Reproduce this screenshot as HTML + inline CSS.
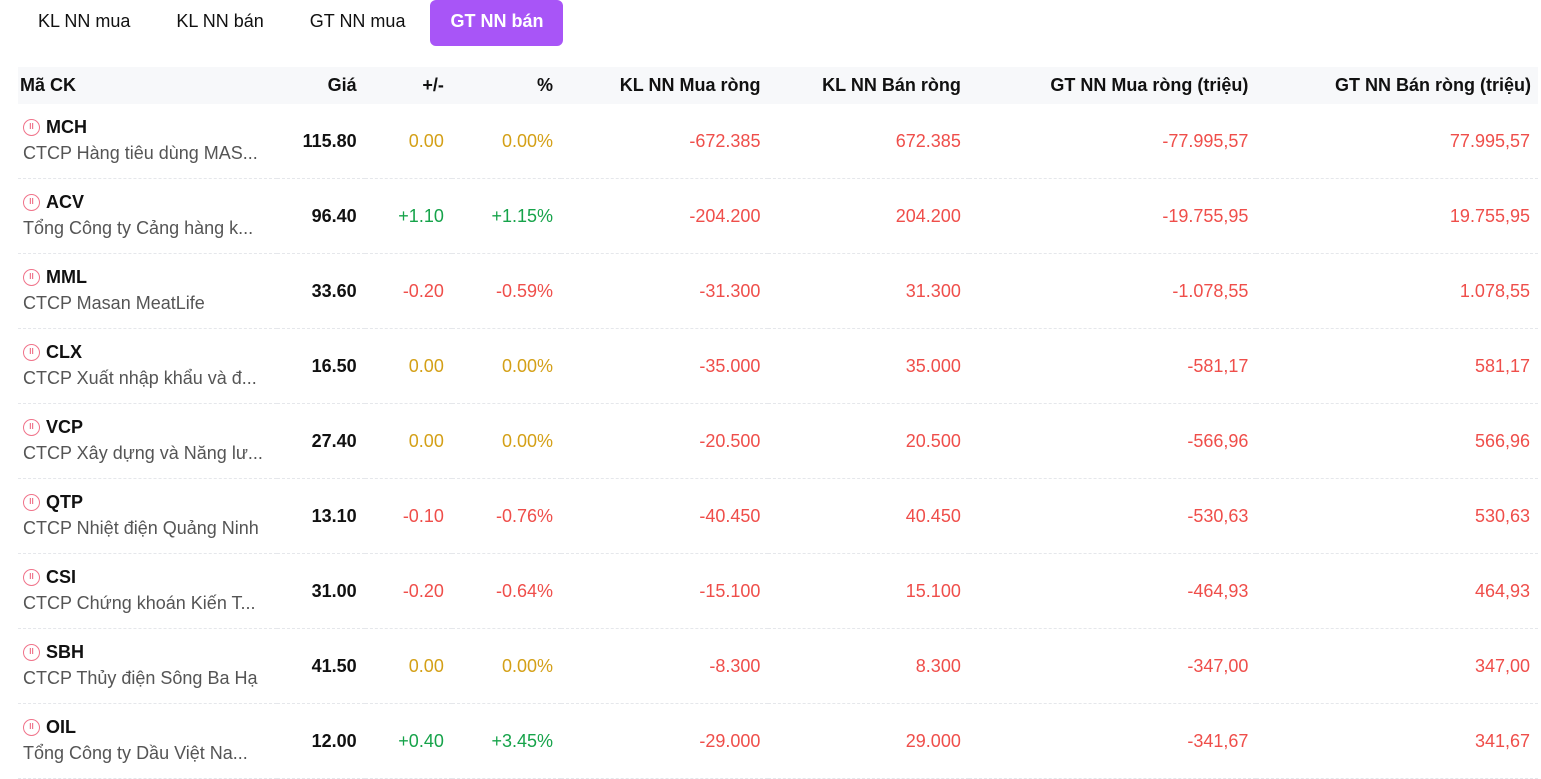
<!DOCTYPE html>
<html><head><meta charset="utf-8"><style>
body{margin:0;width:1541px;height:767px;overflow:hidden;background:#fff;font-family:"Liberation Sans","Noto Sans CJK SC",sans-serif;color:#111;}
.tabs{position:absolute;left:15px;top:0;height:46px;display:flex;}
.tab{height:46px;line-height:43px;font-size:18px;padding:0 23px;border-radius:6px;color:#111;}
.tab.active{background:#a855f7;color:#fff;font-weight:bold;padding:0 20px;margin-left:2px;}
table{position:absolute;left:18px;top:67px;width:1520px;border-collapse:collapse;font-size:18px;}
th{height:37px;background:#f7f8fa;font-weight:bold;text-align:right;padding:0 8px 0 0;font-size:18px;}
th:first-child{text-align:left;padding-left:2px;}
td{height:74px;border-bottom:1px dashed #e5e7eb;text-align:right;padding:0 8px 0 0;color:#ef4e4a;}
td.s{text-align:left;padding-left:5px;color:#111;width:245px;}
.sym{font-weight:bold;font-size:18px;display:flex;align-items:center;gap:6px;margin-top:-2px;}
.ic{width:17px;height:17px;border:1.8px solid #f0738a;border-radius:50%;box-sizing:border-box;font-size:8px;color:#f0738a;text-align:center;line-height:13px;font-weight:bold;}
.nm{color:#555;font-size:18px;margin-top:5px;white-space:nowrap;}
td.p{color:#111;font-weight:bold;}
.y{color:#d4a017!important}.g{color:#16a34a!important}
</style></head><body>
<div class="tabs">
<div class="tab">KL NN mua</div>
<div class="tab">KL NN bán</div>
<div class="tab">GT NN mua</div>
<div class="tab active">GT NN bán</div>
</div>
<table>
<thead><tr>
<th>Mã CK</th>
<th style="width:80px">Giá</th>
<th style="width:79px">+/-</th>
<th style="width:101px">%</th>
<th style="width:199px">KL NN Mua ròng</th>
<th style="width:192px">KL NN Bán ròng</th>
<th style="width:279px">GT NN Mua ròng (triệu)</th>
<th style="width:274px;padding-right:7px">GT NN Bán ròng (triệu)</th>
</tr></thead>
<tbody id="tb"></tbody></table>
<script>
const rows=[
["MCH","CTCP Hàng tiêu dùng MAS...","115.80","0.00","0.00%","-672.385","672.385","-77.995,57","77.995,57","y"],
["ACV","Tổng Công ty Cảng hàng k...","96.40","+1.10","+1.15%","-204.200","204.200","-19.755,95","19.755,95","g"],
["MML","CTCP Masan MeatLife","33.60","-0.20","-0.59%","-31.300","31.300","-1.078,55","1.078,55",""],
["CLX","CTCP Xuất nhập khẩu và đ...","16.50","0.00","0.00%","-35.000","35.000","-581,17","581,17","y"],
["VCP","CTCP Xây dựng và Năng lư...","27.40","0.00","0.00%","-20.500","20.500","-566,96","566,96","y"],
["QTP","CTCP Nhiệt điện Quảng Ninh","13.10","-0.10","-0.76%","-40.450","40.450","-530,63","530,63",""],
["CSI","CTCP Chứng khoán Kiến T...","31.00","-0.20","-0.64%","-15.100","15.100","-464,93","464,93",""],
["SBH","CTCP Thủy điện Sông Ba Hạ","41.50","0.00","0.00%","-8.300","8.300","-347,00","347,00","y"],
["OIL","Tổng Công ty Dầu Việt Na...","12.00","+0.40","+3.45%","-29.000","29.000","-341,67","341,67","g"]];
const tb=document.getElementById('tb');
for(const r of rows){
const tr=document.createElement('tr');


tr.innerHTML=`<td class="s"><div class="sym"><span class="ic">II</span>${r[0]}</div><div class="nm">${r[1]}</div></td>
<td class="p">${r[2]}</td>
<td class="${r[9]}">${r[3]}</td>
<td class="${r[9]}">${r[4]}</td>
<td>${r[5]}</td>
<td>${r[6]}</td>
<td>${r[7]}</td>
<td style="padding-right:8px">${r[8]}</td>`;
tb.appendChild(tr);}
</script>
</body></html>
